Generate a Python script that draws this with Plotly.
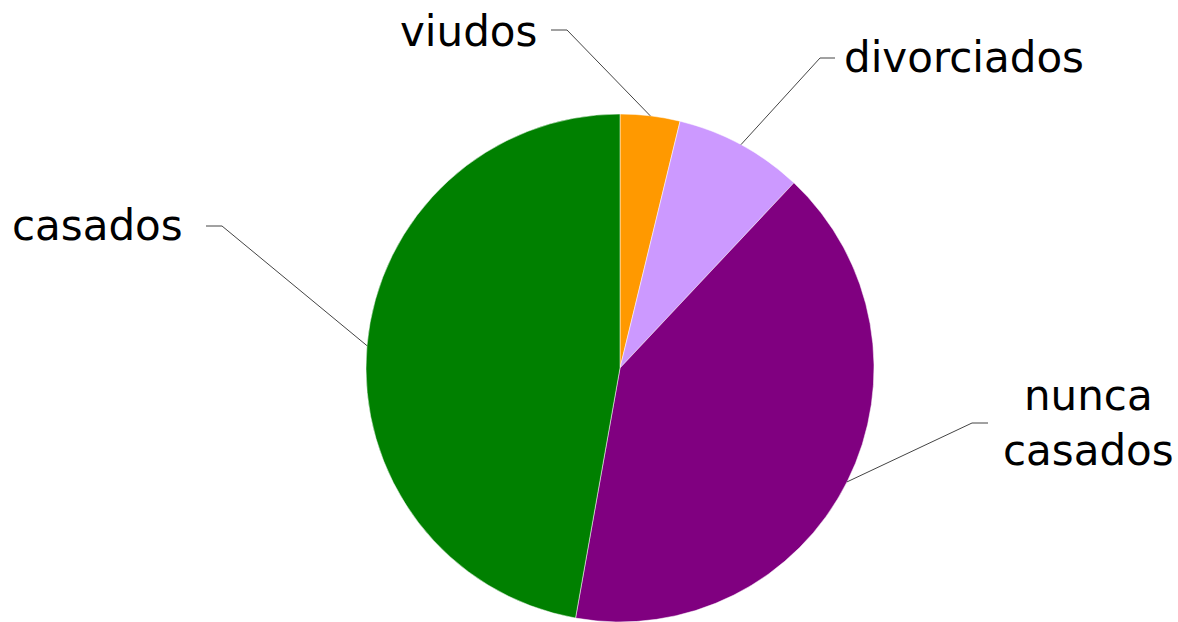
import math
import plotly.graph_objects as go

# ---- data ----
categories = ["viudos", "divorciados", "nunca casados", "casados"]
values = [3.8, 8.2, 40.8, 47.2]
label_texts = ["viudos", "divorciados", "nunca<br>casados", "casados"]

# ---- styles / layout ----
colors = ["#FF9900", "#CC99FF", "#800080", "#008000"]
W, H = 1178, 622
CX, CY, R = 620, 368, 254          # pie centre / radius in px
elbows = [(567, 30), (820, 58), (972, 423), (222, 226)]
line_ends = [(551, 30), (835, 58), (988, 423), (206, 226)]
label_pos = [(539, 31, "right"), (842, 58, "left"), (1088, 423, "center"), (185, 226, "right")]
FONT = "DejaVu Sans"
FSIZE = 42


def px(x, y):
    return x / W, 1 - y / H


fig = go.Figure(go.Pie(
    labels=categories, values=values, sort=False, direction="clockwise",
    rotation=0, textinfo="none", hoverinfo="label+percent",
    marker=dict(colors=colors, line=dict(color="#ffffff", width=0.5)),
    domain=dict(x=[(CX - R) / W, (CX + R) / W], y=[(H - CY - R) / H, (H - CY + R) / H]),
    showlegend=False,
))

total = sum(values)
cum = 0
shapes, annotations = [], []
for i, v in enumerate(values):
    mid = (cum + v / 2) / total * 2 * math.pi
    cum += v
    ex, ey = CX + R * math.sin(mid), CY - R * math.cos(mid)
    p0 = px(ex, ey)
    p1 = px(*elbows[i])
    p2 = px(*line_ends[i])
    shapes.append(dict(type="path", xref="paper", yref="paper",
                       path=f"M {p0[0]} {p0[1]} L {p1[0]} {p1[1]} L {p2[0]} {p2[1]}",
                       line=dict(color="#444444", width=1)))
    lx, ly, anchor = label_pos[i]
    q = px(lx, ly)
    annotations.append(dict(x=q[0], y=q[1], xref="paper", yref="paper", text=label_texts[i],
                            showarrow=False, xanchor=anchor, yanchor="middle", align="center",
                            font=dict(family=FONT, size=FSIZE, color="#000000")))

fig.update_layout(width=W, height=H, margin=dict(l=0, r=0, t=0, b=0),
                  paper_bgcolor="white", plot_bgcolor="white",
                  shapes=shapes, annotations=annotations)
fig.write_html("out.html", config={"displayModeBar": False},
               post_script="document.body.style.margin='0';document.body.style.overflow='hidden';")
